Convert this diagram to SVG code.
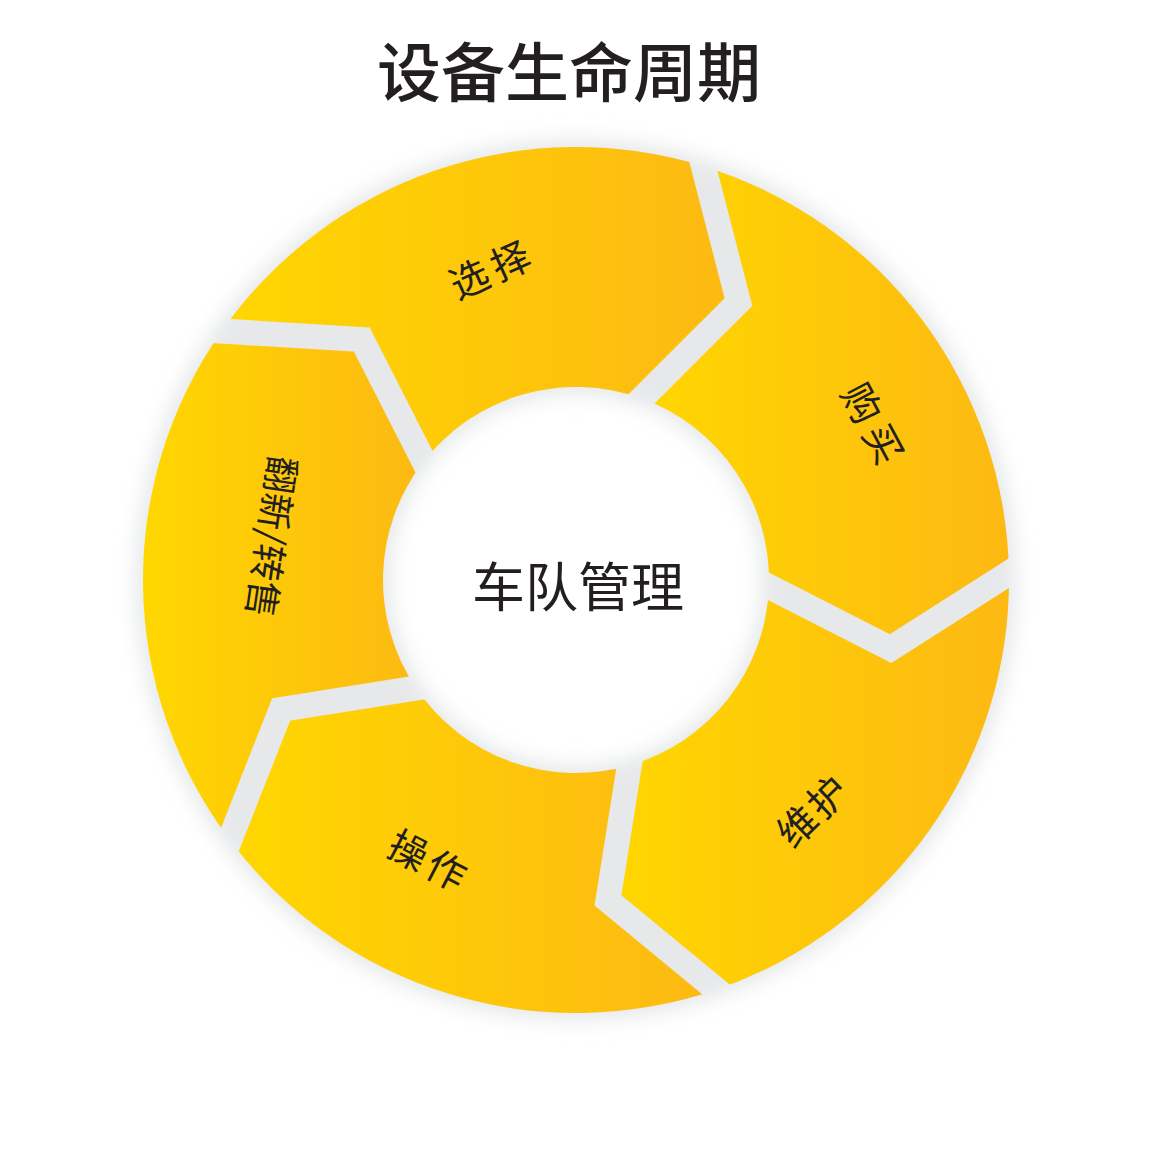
<svg xmlns="http://www.w3.org/2000/svg" width="1169" height="1169" viewBox="0 0 1169 1169">
  <defs>
    <style>
      .seg { fill: url(#yg); }
      .lbl { font-family: "Noto Sans CJK SC", "Noto Sans", sans-serif; font-size: 39px; fill: #231f20; text-anchor: middle; }
      .title { font-family: "Noto Sans CJK SC", "Noto Sans", sans-serif; font-size: 64px; font-weight: 500; fill: #231f20; text-anchor: middle; }
      .hub { font-family: "Noto Sans CJK SC", "Noto Sans", sans-serif; font-size: 53px; fill: #231f20; text-anchor: middle; }
      .gap { fill: none; stroke: #000; stroke-width: 25; stroke-linejoin: miter; stroke-miterlimit: 10; }
    </style>
    <linearGradient id="yg" x1="0" y1="0" x2="1" y2="0">
      <stop offset="0" stop-color="#FFD700"/>
      <stop offset="1" stop-color="#FDB913"/>
    </linearGradient>
    <filter id="soft" filterUnits="userSpaceOnUse" x="0" y="0" width="1169" height="1169">
      <feGaussianBlur stdDeviation="10"/>
    </filter>
    <mask id="gaps" maskUnits="userSpaceOnUse" x="0" y="0" width="1169" height="1169">
      <rect x="0" y="0" width="1169" height="1169" fill="#fff"/>
      <polyline class="gap" points="692.77,125.38 738.47,301.99 593.54,446.88"/>
      <polyline class="gap" points="1044.45,550.58 890.61,648.60 708.03,555.55"/>
      <polyline class="gap" points="748.74,1016.44 607.98,900.41 640.05,698.01"/>
      <polyline class="gap" points="214.31,879.15 281.16,709.43 483.54,677.37"/>
      <polyline class="gap" points="179.72,328.45 361.80,339.58 454.82,522.18"/>
    </mask>
  </defs>

  <rect x="0" y="0" width="1169" height="1169" fill="#ffffff"/>

  <text id="title" class="title" x="569" y="96">设备生命周期</text>

  <g id="ring-shadow">
    <circle cx="576" cy="580" r="313" fill="none" stroke="#e6e8e9" stroke-width="254" filter="url(#soft)"/>
  </g>

  <g id="segments" mask="url(#gaps)">
    <g id="node-xuanze">
      <path class="seg" d="M221.74,331.02 A433,433 0 0 1 703.32,166.14 L738.47,301.99 L641.85,398.58 A193,193 0 0 0 423.81,461.31 L361.80,339.58 Z"/>
    </g>
    <g id="node-goumai">
      <path class="seg" d="M703.32,166.14 A433,433 0 0 1 1008.95,573.20 L890.61,648.60 L768.89,586.57 A193,193 0 0 0 641.85,398.58 L738.47,301.99 Z"/>
    </g>
    <g id="node-weihu">
      <path class="seg" d="M1008.95,573.20 A433,433 0 0 1 716.26,989.66 L607.98,900.41 L629.36,765.48 A193,193 0 0 0 768.89,586.57 L890.61,648.60 Z"/>
    </g>
    <g id="node-caozuo">
      <path class="seg" d="M716.26,989.66 A433,433 0 0 1 229.74,839.98 L281.16,709.43 L416.08,688.06 A193,193 0 0 0 629.36,765.48 L607.98,900.41 Z"/>
    </g>
    <g id="node-fanxin">
      <path class="seg" d="M229.74,839.98 A433,433 0 0 1 221.74,331.02 L361.80,339.58 L423.81,461.31 A193,193 0 0 0 416.08,688.06 L281.16,709.43 Z"/>
    </g>
  </g>

  <g id="labels">
    <text class="lbl" transform="translate(490,270) rotate(-24)" x="-22.5 22.5" y="14.4">选择</text>
    <text class="lbl" transform="translate(872.5,423.5) rotate(62)" x="-23 23" y="14.4">购买</text>
    <text class="lbl" transform="translate(812.5,811.5) rotate(-44)" x="-21 21" y="14.4">维护</text>
    <text class="lbl" transform="translate(427.5,860.5) rotate(27.5)" x="-21.5 21.5" y="14.4">操作</text>
    <text class="lbl" transform="translate(272,537) rotate(98.4)" x="0" y="14" style="font-size:37px">翻新/转售</text>
  </g>

  <g id="node-hub">
    <text class="hub" x="578" y="607">车队管理</text>
  </g>

  <g id="connectors"></g>
</svg>
